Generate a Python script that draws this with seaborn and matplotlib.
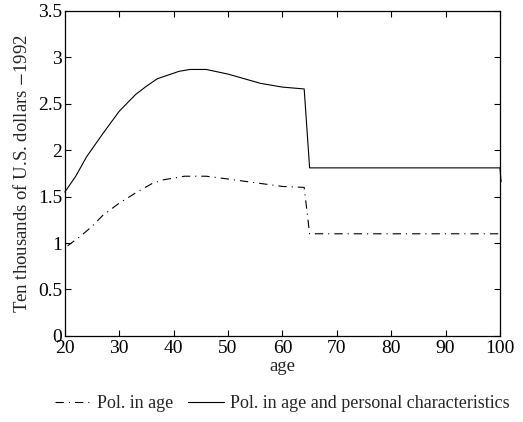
import numpy as np
import pandas as pd
import matplotlib
matplotlib.use("Agg")
import matplotlib.pyplot as plt
from matplotlib.ticker import FormatStrFormatter
import seaborn as sns

# Values
age_pers = [20, 22, 24, 27, 30, 33, 35, 37, 39, 41, 43, 46, 50, 53, 56, 60, 64, 65, 100, 100.2]
inc_pers = [1.55, 1.72, 1.93, 2.18, 2.42, 2.60, 2.69, 2.77, 2.81, 2.85, 2.87, 2.87,
            2.82, 2.77, 2.72, 2.68, 2.66, 1.81, 1.81, 1.66]

age_only = [20.5, 23, 25, 27, 30, 33, 36, 38, 42, 46, 50, 55, 60, 64, 65, 100]
inc_only = [0.97, 1.08, 1.18, 1.30, 1.43, 1.54, 1.64, 1.68, 1.72, 1.72, 1.69, 1.65,
            1.61, 1.60, 1.10, 1.10]

label_only = "Pol. in age"
label_pers = "Pol. in age and personal characteristics"

sns.set_theme(style="ticks")
plt.rcParams['font.family'] = ['Liberation Serif', 'DejaVu Serif']
plt.rcParams['mathtext.fontset'] = 'stix'

fig = plt.figure(figsize=(5.23, 4.22), dpi=100)
ax = fig.add_axes([0.124, 0.204, 0.832, 0.770])

df_only = pd.DataFrame({"age": age_only, "inc": inc_only})
df_pers = pd.DataFrame({"age": age_pers, "inc": inc_pers})

sns.lineplot(data=df_only, x="age", y="inc", ax=ax, color="black", lw=0.8,
             linestyle=(0, (7.5, 4.5, 1, 4.5)), sort=False, label=label_only)
sns.lineplot(data=df_pers, x="age", y="inc", ax=ax, color="black", lw=0.8,
             sort=False, label=label_pers)
for ln in ax.lines:
    ln.set_clip_on(False)

ax.set_xlim(20, 100)
ax.set_ylim(0, 3.5)
ax.set_xticks(np.arange(20, 101, 10))
ax.set_yticks(np.arange(0, 3.51, 0.5))
ax.yaxis.set_major_formatter(FormatStrFormatter('%g'))
ax.tick_params(direction="in", top=True, right=True, length=4, width=0.8,
               labelsize=14, colors="black", pad=2)
ax.tick_params(axis="x", pad=3)
for s in ax.spines.values():
    s.set_linewidth(0.9)
    s.set_color("black")

ax.set_xlabel("age", fontsize=13.5, labelpad=1)
ax.set_ylabel("Ten thousands of U.S. dollars $-$1992", fontsize=13.5, labelpad=5)

handles, labels = ax.get_legend_handles_labels()
if ax.get_legend() is not None:
    ax.get_legend().remove()
fig.legend(handles, labels, loc="center", bbox_to_anchor=(0.54, 0.043), ncol=2,
           frameon=False, fontsize=13, handlelength=2.0, handletextpad=0.35,
           columnspacing=0.8)

fig.savefig("out.png", dpi=100)
